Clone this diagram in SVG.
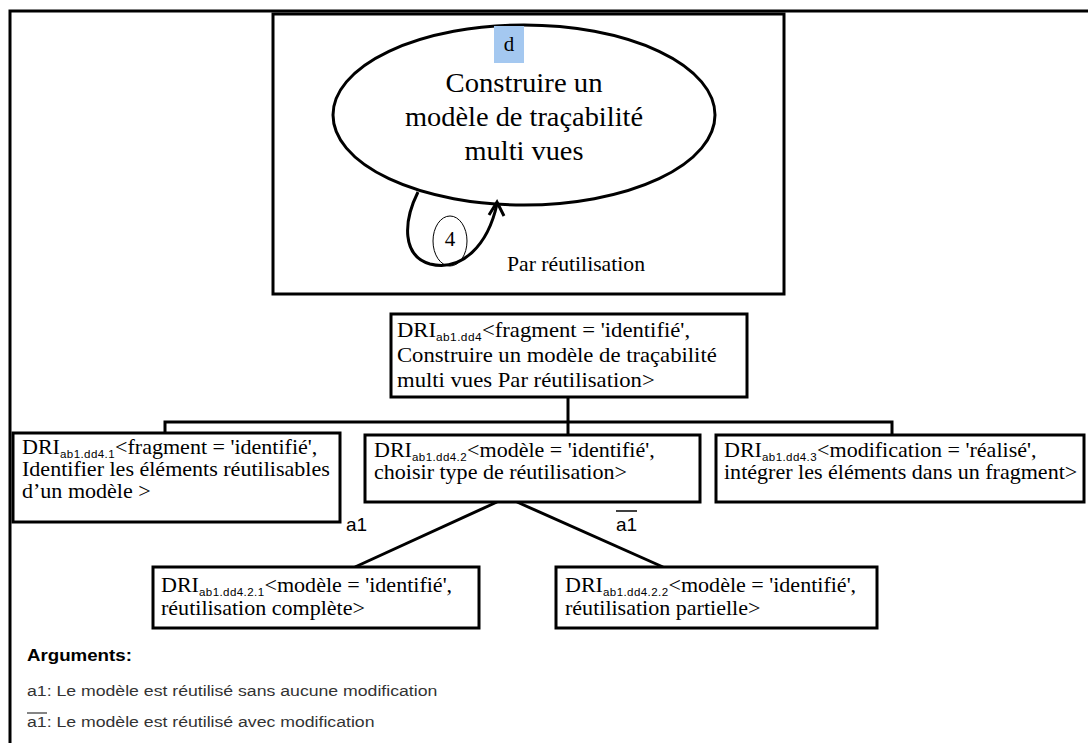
<svg xmlns="http://www.w3.org/2000/svg" width="1088" height="743" viewBox="0 0 1088 743">
<style>
.frame{fill:none;stroke:#000;stroke-width:3}
.box{fill:#fff;stroke:#000;stroke-width:3}
.ln{fill:none;stroke:#000;stroke-width:3}
.thin{fill:none;stroke:#000;stroke-width:1}
.t{font-family:"Liberation Serif","Times New Roman",serif;font-size:21px;fill:#000}
.big{font-family:"Liberation Serif","Times New Roman",serif;font-size:27px;fill:#000}
.sub{font-family:"Liberation Sans",Arial,sans-serif;font-size:11px;letter-spacing:0.4px}
.arg{font-family:"Liberation Sans",Arial,sans-serif;font-size:15.5px;fill:#333}
.argh{font-family:"Liberation Sans",Arial,sans-serif;font-size:17px;font-weight:bold;fill:#000}
.lab{font-family:"Liberation Sans",Arial,sans-serif;font-size:19px;fill:#000}
</style>
<rect width="1088" height="743" fill="#fff"/>
<path class="frame" d="M10,743 V11 H1088"/>

<g id="top-node">
<rect class="box" x="273" y="14" width="511" height="280"/>
<ellipse class="ln" cx="524" cy="115" rx="191" ry="90"/>
<rect x="494" y="26" width="30" height="37" fill="#a4c8f0"/>
<text class="t" x="509" y="51" text-anchor="middle" font-size="18">d</text>
<text class="big" x="524" y="92" text-anchor="middle" textLength="157" lengthAdjust="spacingAndGlyphs">Construire un</text>
<text class="big" x="524" y="126" text-anchor="middle" textLength="238" lengthAdjust="spacingAndGlyphs">modèle de traçabilité</text>
<text class="big" x="524" y="160" text-anchor="middle" textLength="119" lengthAdjust="spacingAndGlyphs">multi vues</text>
<path class="ln" d="M418,192 C403,222 402,256 430,264 C462,272 488,245 497,204"/>
<polyline class="ln" points="489,215 497,202 504,216"/>
<ellipse class="thin" cx="450" cy="241" rx="17" ry="25"/>
<text class="t" x="450" y="246" text-anchor="middle" font-size="14">4</text>
<text class="t" x="507" y="271" font-size="20" textLength="138" lengthAdjust="spacingAndGlyphs">Par réutilisation</text>
</g>

<g id="connectors">
<polyline class="ln" points="568,397 568,435"/>
<polyline class="ln" points="165,433 165,422 892,422 892,435"/>
<line class="ln" x1="497" y1="502" x2="355" y2="567"/>
<line class="ln" x1="517" y1="502" x2="663" y2="567"/>
<text class="lab" x="346" y="531">a1</text>
<text class="lab" x="616" y="531">a1</text>
<line x1="616" y1="511" x2="637" y2="511" stroke="#000" stroke-width="1.5"/>
</g>

<g id="dri-dd4">
<rect class="box" x="391" y="314" width="356" height="83"/>
<text class="t" font-size="22" transform="translate(397 337) scale(1.08 1)">DRI<tspan class="sub" dy="4">ab1.dd4</tspan><tspan dy="-4">&lt;fragment = 'identifié',</tspan></text>
<text class="t" font-size="22" transform="translate(397 362) scale(1.08 1)">Construire un modèle de traçabilité</text>
<text class="t" font-size="22" transform="translate(397 387) scale(1.08 1)">multi vues Par réutilisation&gt;</text>
</g>

<g id="dri-dd4-1">
<rect class="box" x="13" y="433" width="327" height="89"/>
<text class="t" transform="translate(22 454) scale(1.05 1)">DRI<tspan class="sub" dy="4">ab1.dd4.1</tspan><tspan dy="-4">&lt;fragment = 'identifié',</tspan></text>
<text class="t" transform="translate(22 476) scale(1.05 1)">Identifier les éléments réutilisables</text>
<text class="t" transform="translate(22 498) scale(1.05 1)">d’un modèle &gt;</text>
</g>

<g id="dri-dd4-2">
<rect class="box" x="365" y="435" width="335" height="67"/>
<text class="t" transform="translate(374 457) scale(1.05 1)">DRI<tspan class="sub" dy="4">ab1.dd4.2</tspan><tspan dy="-4">&lt;modèle = 'identifié',</tspan></text>
<text class="t" transform="translate(374 479) scale(1.05 1)">choisir type de réutilisation&gt;</text>
</g>

<g id="dri-dd4-3">
<rect class="box" x="716" y="435" width="368" height="67"/>
<text class="t" transform="translate(724 457) scale(1.05 1)">DRI<tspan class="sub" dy="4">ab1.dd4.3</tspan><tspan dy="-4">&lt;modification = 'réalisé',</tspan></text>
<text class="t" transform="translate(724 479) scale(1.05 1)">intégrer les éléments dans un fragment&gt;</text>
</g>

<g id="dri-dd4-2-1">
<rect class="box" x="153" y="567" width="326" height="61"/>
<text class="t" transform="translate(161 592) scale(1.05 1)">DRI<tspan class="sub" dy="4">ab1.dd4.2.1</tspan><tspan dy="-4">&lt;modèle = 'identifié',</tspan></text>
<text class="t" transform="translate(161 615) scale(1.05 1)">réutilisation complète&gt;</text>
</g>

<g id="dri-dd4-2-2">
<rect class="box" x="556" y="567" width="321" height="61"/>
<text class="t" transform="translate(565 592) scale(1.05 1)">DRI<tspan class="sub" dy="4">ab1.dd4.2.2</tspan><tspan dy="-4">&lt;modèle = 'identifié',</tspan></text>
<text class="t" transform="translate(565 615) scale(1.05 1)">réutilisation partielle&gt;</text>
</g>

<g id="arguments">
<text class="argh" transform="translate(27 661) scale(1.1 1)">Arguments:</text>
<text class="arg" transform="translate(27 696) scale(1.14 1)">a1: Le modèle est réutilisé sans aucune modification</text>
<text class="arg" transform="translate(27 727) scale(1.14 1)">a1: Le modèle est réutilisé avec modification</text>
<line x1="27" y1="713" x2="47" y2="713" stroke="#333" stroke-width="1.2"/>
</g>
</svg>
